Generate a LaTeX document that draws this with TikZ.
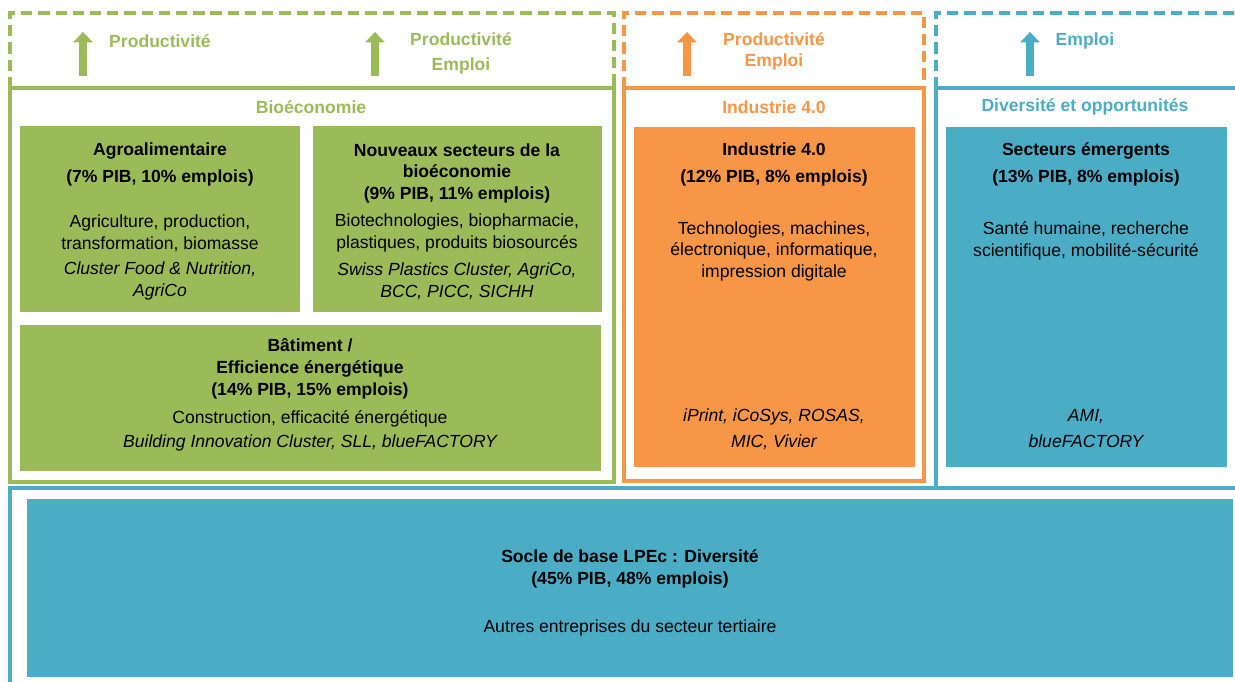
\documentclass[tikz,border=0pt]{standalone}
\usepackage{fontspec}
\setmainfont{Liberation Sans}
\usepackage{tikz}
\usetikzlibrary{arrows.meta,positioning}

\definecolor{bioGreen}{HTML}{9BBB59}
\definecolor{indOrange}{HTML}{F79646}
\definecolor{divBlue}{HTML}{4BACC6}

\tikzset{
  frame/.style={line width=2.2pt, draw=#1},
  dashframe/.style={line width=2.2pt, draw=#1, dash pattern=on 6.4pt off 3.4pt},
  upArrow/.style={line width=4.2pt, draw=#1, fill=#1, -{Triangle[length=6pt,width=11pt]}},
  head/.style={font=\fontsize{10}{12.5}\selectfont\bfseries, text=#1, align=center},
  txt/.style={align=center, text=black},
  titletxt/.style={txt, font=\fontsize{10}{12.5}\selectfont\bfseries},
  ittxt/.style={txt, font=\fontsize{10}{12.5}\selectfont\itshape}
}

\begin{document}
\begin{tikzpicture}[x=0.02cm, y=-0.02cm, font=\fontsize{10}{12.5}\selectfont,
    every node/.append style={yshift=-1.1pt}]
        \useasboundingbox (0,0) rectangle (1235,682);

        % Top frames (dashed) and axes frames (solid)
        \draw[dashframe=bioGreen] (10,88) -- (10,13) -- (614,13) -- (614,88);
        \draw[frame=bioGreen] (10,88) rectangle (614,482);
        \draw[dashframe=indOrange] (624,88) -- (624,13) -- (924,13) -- (924,88);
        \draw[frame=indOrange] (624,88) rectangle (924,481);
        \draw[dashframe=divBlue] (936,88) -- (936,13) -- (1250,13);
        \draw[frame=divBlue] (936,488) -- (936,88) -- (1250,88);
        \draw[frame=divBlue] (10,488) rectangle (1250,692);

        % Filled sector boxes
        \fill[bioGreen] (20,126) rectangle (300,312);   % agro
        \fill[bioGreen] (313,126) rectangle (602,312);  % new sectors
        \fill[bioGreen] (20,325) rectangle (601,471);   % building
        \fill[indOrange] (634,127) rectangle (915,467); % industry
        \fill[divBlue] (946,127) rectangle (1227,467);  % emerging
        \fill[divBlue] (27,499) rectangle (1233,677);   % base

        % Arrows
        \coordinate (arrA0) at (83,74);   \coordinate (arrA1) at (83,30);
        \coordinate (arrB0) at (375,74);  \coordinate (arrB1) at (375,30);
        \coordinate (arrC0) at (687,74);  \coordinate (arrC1) at (687,30);
        \coordinate (arrD0) at (1030,74); \coordinate (arrD1) at (1030,30);
        \draw[upArrow=bioGreen] (arrA0) -- (arrA1);
        \draw[upArrow=bioGreen] (arrB0) -- (arrB1);
        \draw[upArrow=indOrange] (arrC0) -- (arrC1);
        \draw[upArrow=divBlue] (arrD0) -- (arrD1);

        % Gains
        \node[head=bioGreen] (gainA) at (160,39) {Productivité};
        \node[head=bioGreen] (gainB) at (461,51.5) {Productivité\\[1.7pt]Emploi};
        \node[head=indOrange] (gainC) at (774,49.5) {Productivité\\[-0.5pt]Emploi};
        \node[head=divBlue] (gainD) at (1085,39) {Emploi};

        % Axis titles
        \node[head=bioGreen] (bioH) at (311,105) {Bioéconomie};
        \node[head=indOrange] (indH) at (774,105) {Industrie 4.0};
        \node[head=divBlue] (divH) at (1085,105) {Diversité et opportunités};

        % Agroalimentaire
        \node[titletxt] (agroT) at (160,162.5) {Agroalimentaire\\[2.8pt](7\% PIB, 10\% emplois)};
        \node[txt] (agroB) at (160,231) {Agriculture, production,\\transformation, biomasse};
        \node[ittxt] (agroI) at (160,279) {Cluster Food \& Nutrition,\\AgriCo};

        % Nouveaux secteurs
        \node[titletxt] (newT) at (457,171.5) {Nouveaux secteurs de la\\bioéconomie\\(9\% PIB, 11\% emplois)};
        \node[txt] (newB) at (457,231) {Biotechnologies, biopharmacie,\\plastiques, produits biosourcés};
        \node[ittxt] (newI) at (457,279) {Swiss Plastics Cluster, AgriCo,\\BCC, PICC, SICHH};

        % Batiment
        \node[titletxt] (batT) at (310,366.5) {Bâtiment /\\Efficience énergétique\\(14\% PIB, 15\% emplois)};
        \node[txt] (batB) at (310,417) {Construction, efficacité énergétique};
        \node[ittxt] (batI) at (310,441) {Building Innovation Cluster, SLL, blueFACTORY};

        % Industrie 4.0
        \node[titletxt] (indT) at (774,162.5) {Industrie 4.0\\[2.8pt](12\% PIB, 8\% emplois)};
        \node[txt] (indB) at (774,249.5) {Technologies, machines,\\électronique, informatique,\\impression digitale};
        \node[ittxt] (indI) at (774,427) {iPrint, iCoSys, ROSAS,\\[2.3pt]MIC, Vivier};

        % Secteurs emergents
        \node[titletxt] (emerT) at (1086,162.5) {Secteurs émergents\\[2.8pt](13\% PIB, 8\% emplois)};
        \node[txt] (emerB) at (1086,238.5) {Santé humaine, recherche\\scientifique, mobilité-sécurité};
        \node[ittxt] (emerI) at (1086,427) {AMI,\\[2.3pt]blueFACTORY};

        % Socle de base
        \node[titletxt] (baseT) at (630,567) {Socle de base LPEc : Diversité\\(45\% PIB, 48\% emplois)};
        \node[txt] (baseB) at (630,626) {Autres entreprises du secteur tertiaire};
    \end{tikzpicture}
\end{document}
